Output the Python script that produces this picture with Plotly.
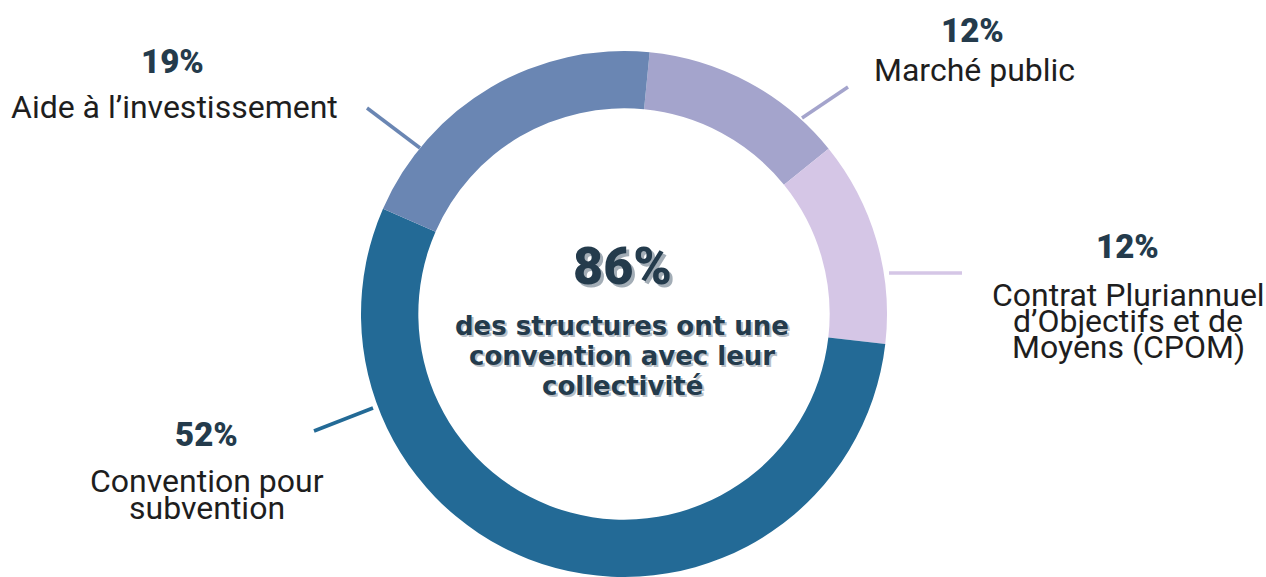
import plotly.graph_objects as go

# ---- data ----
labels = ["Marché public",
          "Contrat Pluriannuel d’Objectifs et de Moyens (CPOM)",
          "Convention pour subvention",
          "Aide à l’investissement"]
values = [12, 12, 52, 19]
colors = ["#A4A4CC", "#D5C6E6", "#236A96", "#6A86B3"]
center_value = "86%"
center_text = ["des structures ont une", "convention avec leur", "collectivité"]
label_lines = [["Marché public"],
               ["Contrat Pluriannuel", "d’Objectifs et de", "Moyens (CPOM)"],
               ["Convention pour", "subvention"],
               ["Aide à l’investissement"]]

W, H = 1266, 577
CX, CY, R = 624, 314, 263


def px(x):
    return x / W


def py(y):
    return 1 - y / H


fig = go.Figure()
fig.add_trace(go.Pie(
    labels=labels, values=values, sort=False, direction="clockwise",
    rotation=5.6, hole=0.782,
    marker=dict(colors=colors, line=dict(width=0)),
    textinfo="none", hoverinfo="label+percent", showlegend=False,
    domain=dict(x=[px(CX - R), px(CX + R)], y=[0, 2 * R / H]),
))

DARK = "#243B4C"
TXT = "#1E1E1E"
pct_font = dict(family="Roboto", size=33, color=DARK, weight=900)
lab_font = dict(family="Roboto", size=32, color=TXT)

# label positions (pixel anchors for percent + first line, line spacing)
placements = [
    dict(pct=(972, 30), lab=(974, 70), dy=27),
    dict(pct=(1127, 247), lab=(1128, 295), dy=26),
    dict(pct=(206, 434), lab=(207, 481), dy=27),
    dict(pct=(172, 61), lab=(174, 107), dy=27),
]

ann = []
for v, lines, p in zip(values, label_lines, placements):
    ann.append(dict(x=px(p["pct"][0]), y=py(p["pct"][1]), xref="paper", yref="paper",
                    text=f"{v}%", showarrow=False, font=pct_font,
                    xanchor="center", yanchor="middle"))
    for i, ln in enumerate(lines):
        ann.append(dict(x=px(p["lab"][0]), y=py(p["lab"][1] + i * p["dy"]),
                        xref="paper", yref="paper", text=ln, showarrow=False,
                        font=lab_font, xanchor="center", yanchor="middle"))

ann.append(dict(x=px(622), y=py(266), xref="paper", yref="paper", text=center_value,
                showarrow=False, xanchor="center", yanchor="middle",
                font=dict(family="Roboto", size=52, color=DARK, weight=900,
                          shadow="3px 3px 0px #A3ADB6")))
for i, ln in enumerate(center_text):
    ann.append(dict(x=px(622), y=py(326 + i * 30), xref="paper", yref="paper", text=ln,
                    showarrow=False, xanchor="center", yanchor="middle",
                    font=dict(family="DejaVu Sans", size=26, color=DARK, weight=700,
                              shadow="2px 2px 0px #B8C0C8")))

# leader lines
leaders = [((802, 118), (848, 87)),
           ((889, 273), (962, 273)),
           ((373, 408), (314, 431)),
           ((420, 148), (367, 108))]
shapes = []
for (a, b), c in zip(leaders, colors):
    shapes.append(dict(type="line", xref="paper", yref="paper",
                       x0=px(a[0]), y0=py(a[1]), x1=px(b[0]), y1=py(b[1]),
                       line=dict(color=c, width=3.5), layer="below"))

fig.update_layout(width=W, height=H, margin=dict(l=0, r=0, t=0, b=0),
                  paper_bgcolor="white", plot_bgcolor="white",
                  annotations=ann, shapes=shapes)
fig.write_html("out.html", config={"displayModeBar": False},
               post_script="document.body.style.margin='0px';"
                           "document.body.style.overflow='hidden';")
